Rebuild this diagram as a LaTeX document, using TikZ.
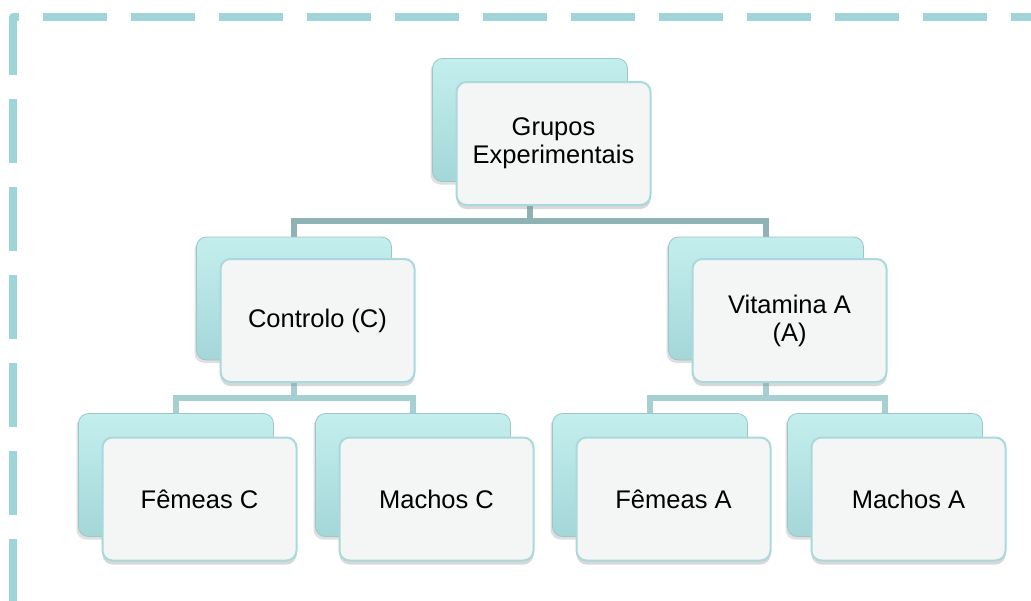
\documentclass[tikz,border=0pt]{standalone}
\usepackage{fontspec}
\setmainfont{Liberation Sans}
\usetikzlibrary{shadows,backgrounds}
\definecolor{bordercol}{HTML}{A0D5D8}
\definecolor{connA}{HTML}{8FB3B5}
\definecolor{connB}{HTML}{A6CFD2}
\definecolor{backtop}{HTML}{C4EEEE}
\definecolor{backmid}{HTML}{B4E5E6}
\definecolor{backbot}{HTML}{A4D7D8}
\definecolor{backedge}{HTML}{9CC6C8}
\definecolor{frontfill}{HTML}{F4F5F5}
\definecolor{frontedge}{HTML}{A9D9DC}
\tikzset{
  backbox/.style={rectangle, rounded corners=10pt, minimum width=195pt, minimum height=123pt,
    top color=backtop, middle color=backmid, bottom color=backbot, draw=backedge, line width=0.8pt,
    drop shadow={shadow xshift=-2pt, shadow yshift=-3pt, opacity=0.25}},
  frontbox/.style={rectangle, rounded corners=10pt, minimum width=194pt, minimum height=123pt,
    fill=frontfill, draw=frontedge, line width=2pt, align=center,
    font=\fontsize{25.5}{28}\selectfont, text=black,
    drop shadow={shadow xshift=0pt, shadow yshift=-4pt, opacity=0.3}},
  connone/.style={draw=connA, line width=6pt, line join=miter},
  conntwo/.style={draw=connB, line width=6pt, line join=miter},
  borderline/.style={draw=bordercol, line width=8pt, dash pattern=on 64pt off 24pt, dash phase=71pt, line join=round}
}
\begin{document}
\begin{tikzpicture}[x=1pt,y=-1pt]
\useasboundingbox (0,0) rectangle (1031,600);
\clip (0,0) rectangle (1031,600);
% back boxes
\node[backbox] (topB) at (530,120) {};
\node[backbox] (ctrlB) at (294,298.5) {};
\node[backbox] (vitB) at (766,298.5) {};
\node[backbox] (fcB) at (176,475) {};
\node[backbox] (mcB) at (413,475) {};
\node[backbox] (faB) at (650,475) {};
\node[backbox] (maB) at (885,475) {};
% front boxes
\node[frontbox] (top) at ([shift={(23.5,23.5)}]topB.center) {Grupos\\Experimentais};
\node[frontbox] (ctrl) at ([shift={(23.5,22)}]ctrlB.center) {Controlo (C)};
\node[frontbox] (vit) at ([shift={(23.5,22)}]vitB.center) {Vitamina A\\(A)};
\node[frontbox] (fc) at ([shift={(23.5,24)}]fcB.center) {Fêmeas C};
\node[frontbox] (mc) at ([shift={(23.5,24)}]mcB.center) {Machos C};
\node[frontbox] (fa) at ([shift={(23.5,24)}]faB.center) {Fêmeas A};
\node[frontbox] (ma) at ([shift={(23.5,24)}]maB.center) {Machos A};
\begin{scope}[on background layer]
\fill[white] (0,0) rectangle (1031,600);
\draw[borderline] (13.3,620) -- (13.3,17) -- (1060,17);
\draw[connone] (topB.south) -- ++(0,39) -| (ctrlB.north);
\draw[connone] (topB.south) -- ++(0,39) -| (vitB.north);
\draw[conntwo] (ctrlB.south) -- ++(0,38) -| (fcB.north);
\draw[conntwo] (ctrlB.south) -- ++(0,38) -| (mcB.north);
\draw[conntwo] (vitB.south) -- ++(0,38) -| (faB.north);
\draw[conntwo] (vitB.south) -- ++(0,38) -| (maB.north);
\end{scope}
\end{tikzpicture}
\end{document}
